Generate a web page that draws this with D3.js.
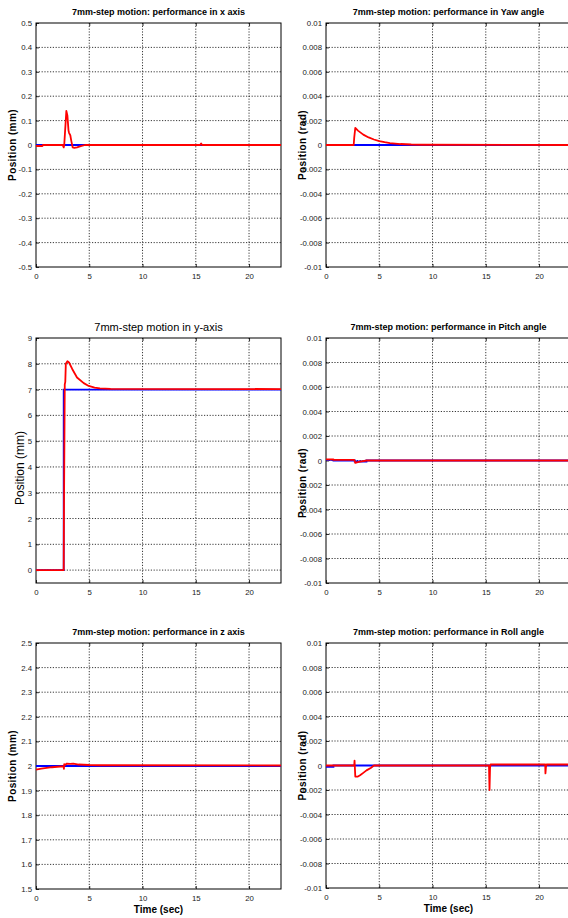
<!DOCTYPE html>
<html><head><meta charset="utf-8">
<script src="https://cdn.jsdelivr.net/npm/d3@7"></script>
<style>
html,body{margin:0;padding:0;background:#fff;}
svg{display:block;font-family:"Liberation Sans",Arial,Helvetica,sans-serif;}
</style></head>
<body>
<svg id="c" width="568" height="918"></svg>
<script>
// ---------- DATA ----------
const xTicks = [0, 5, 10, 15, 20];
const xTickLabels = ["0", "5", "10", "15", "20"];
const xDomain = [0, 23];

const mmTicksX = [-0.5, -0.4, -0.3, -0.2, -0.1, 0, 0.1, 0.2, 0.3, 0.4, 0.5];
const mmTickLabelsX = ["-0.5", "-0.4", "-0.3", "-0.2", "-0.1", "0", "0.1", "0.2", "0.3", "0.4", "0.5"];
const mmTicksY = [0, 1, 2, 3, 4, 5, 6, 7, 8, 9];
const mmTickLabelsY = ["0", "1", "2", "3", "4", "5", "6", "7", "8", "9"];
const mmTicksZ = [1.5, 1.6, 1.7, 1.8, 1.9, 2, 2.1, 2.2, 2.3, 2.4, 2.5];
const mmTickLabelsZ = ["1.5", "1.6", "1.7", "1.8", "1.9", "2", "2.1", "2.2", "2.3", "2.4", "2.5"];
const radTicks = [-0.01, -0.008, -0.006, -0.004, -0.002, 0, 0.002, 0.004, 0.006, 0.008, 0.01];
const radTickLabels = ["-0.01", "-0.008", "-0.006", "-0.004", "-0.002", "0", "0.002", "0.004", "0.006", "0.008", "0.01"];

const titles = [
  "7mm-step motion: performance in x axis",
  "7mm-step motion: performance in Yaw angle",
  "7mm-step motion in y-axis",
  "7mm-step motion: performance in Pitch angle",
  "7mm-step motion: performance in z axis",
  "7mm-step motion: performance in Roll angle"
];
const yLabels = ["Position (mm)", "Position (rad)", "Position (mm)", "Position (rad)", "Position (mm)", "Position (rad)"];
const xLabel = "Time (sec)";

// x axis (mm)
const xRefT = [0, 23];
const xRefV = [0, 0];
const xActT = [0, 0.6, 0.65, 2.5, 2.6, 2.65, 2.85, 2.95, 3.05, 3.1, 3.22, 3.3, 3.44, 3.6, 3.85, 4.2, 4.6, 15.4, 15.5, 15.6, 23];
const xActV = [-0.004, -0.004, 0, 0, -0.01, 0.0, 0.14, 0.12, 0.06, 0.05, 0.04, 0.02, -0.01, -0.012, -0.01, -0.005, 0, 0, 0.006, 0, 0];

// Yaw (rad)
const yawRefT = [0, 23];
const yawRefV = [0, 0];
const yawActT = [0, 2.6, 2.65, 2.75, 3.0, 3.5, 4.0, 4.5, 5.0, 5.5, 6.0, 7.0, 8.0, 9.0, 23];
const yawActV = [0, 0, 0.0006, 0.0014, 0.00118, 0.00085, 0.00062, 0.00045, 0.00032, 0.00023, 0.00016, 0.00008, 0.00004, 0.00002, 0];

// y axis (mm)
const yRefT = [0, 2.6, 2.6, 23];
const yRefV = [0, 0, 7, 7];
const yActT = [0, 2.6, 2.62, 2.7, 2.75, 2.8, 2.95, 3.1, 3.4, 3.85, 4.48, 4.95, 5.5, 6.0, 7.0, 23];
const yActV = [0, 0, 1.9, 7.2, 7.3, 8.0, 8.1, 8.05, 7.8, 7.47, 7.25, 7.14, 7.08, 7.05, 7.03, 7.02];

// Pitch (rad)
const pitchRefT = [0, 0.7, 0.7, 2.7, 2.7, 3.8, 3.8, 23];
const pitchRefV = [0.00005, 0.00005, 0, 0, -0.00008, -0.00008, 0, 0];
const pitchActT = [0, 0.7, 0.7, 2.65, 2.7, 2.75, 2.9, 3.2, 3.5, 3.8, 23];
const pitchActV = [0.0001, 0.0001, 0.00005, 0.00005, -0.00005, -0.0002, -0.00015, -0.0001, -0.00005, 0, 0];

// z axis (mm)
const zRefT = [0, 23];
const zRefV = [2, 2];
const zActT = [0, 0.5, 1.0, 1.5, 2.0, 2.6, 2.62, 2.65, 2.7, 2.9, 3.2, 3.5, 4.0, 4.5, 5.0, 6.0, 23];
const zActV = [1.985, 1.989, 1.992, 1.995, 1.997, 1.999, 1.988, 2.008, 2.003, 2.01, 2.009, 2.01, 2.006, 2.005, 2.004, 2.003, 2.002];

// Roll (rad)
const rollRefT = [0, 0.7, 0.7, 23];
const rollRefV = [-0.0001, -0.0001, 0, 0];
const rollActT = [0, 2.65, 2.68, 2.75, 2.8, 3.0, 3.2, 3.5, 3.8, 4.2, 4.5, 15.3, 15.35, 15.4, 15.45, 15.5, 20.58, 20.6, 20.65, 20.7, 20.75, 23];
const rollActV = [0, 0, 0.0004, -0.0009, -0.0009, -0.0009, -0.0008, -0.0006, -0.0004, -0.0002, 0, 0, -0.002, -0.0002, 0.00008, 0.00008, 0.00008, -0.00065, -0.0001, 0.00008, 0.00008, 0.00008];

// ---------- LAYOUT ----------
const panels = [
  {left: 36, top: 23, bottom: 267, yDom: [-0.5, 0.5], ticks: mmTicksX, labels: mmTickLabelsX, refT: xRefT, refV: xRefV, actT: xActT, actV: xActV, big: false, labY: null},
  {left: 326, top: 23, bottom: 267, yDom: [-0.01, 0.01], ticks: radTicks, labels: radTickLabels, refT: yawRefT, refV: yawRefV, actT: yawActT, actV: yawActV, big: false, labY: null},
  {left: 36, top: 338, bottom: 583, yDom: [-0.5, 9], ticks: mmTicksY, labels: mmTickLabelsY, refT: yRefT, refV: yRefV, actT: yActT, actV: yActV, big: true, labY: 468},
  {left: 326, top: 338, bottom: 583, yDom: [-0.01, 0.01], ticks: radTicks, labels: radTickLabels, refT: pitchRefT, refV: pitchRefV, actT: pitchActT, actV: pitchActV, big: false, labY: 483},
  {left: 36, top: 643, bottom: 889, yDom: [1.5, 2.5], ticks: mmTicksZ, labels: mmTickLabelsZ, refT: zRefT, refV: zRefV, actT: zActT, actV: zActV, big: false, labY: null, xlab: true},
  {left: 326, top: 643, bottom: 888, yDom: [-0.01, 0.01], ticks: radTicks, labels: radTickLabels, refT: rollRefT, refV: rollRefV, actT: rollActT, actV: rollActV, big: false, labY: null, xlab: true}
];
const plotW = 245;

const svg = d3.select("#c");

panels.forEach((p, i) => {
  const x = d3.scaleLinear().domain(xDomain).range([p.left, p.left + plotW]);
  const y = d3.scaleLinear().domain(p.yDom).range([p.bottom, p.top]);
  const g = svg.append("g");

  // grid
  g.selectAll(".gx").data(xTicks.filter(t => t > xDomain[0] && t < xDomain[1])).join("line")
    .attr("x1", d => x(d)).attr("x2", d => x(d)).attr("y1", p.top).attr("y2", p.bottom)
    .attr("stroke", "#222").attr("stroke-width", 0.9).attr("stroke-dasharray", "1.2,1.6");
  g.selectAll(".gy").data(p.ticks.filter(t => t > p.yDom[0] && t < p.yDom[1])).join("line")
    .attr("y1", d => y(d)).attr("y2", d => y(d)).attr("x1", p.left).attr("x2", p.left + plotW)
    .attr("stroke", "#222").attr("stroke-width", 0.9).attr("stroke-dasharray", "1.2,1.6");

  // axes via d3
  const yAxis = d3.axisLeft(y).tickValues(p.ticks).tickSize(-3).tickPadding(4)
    .tickFormat((d, k) => p.labels[k]);
  const ya = g.append("g").attr("transform", `translate(${p.left},0)`).call(yAxis);
  const xAxis = d3.axisBottom(x).tickValues(xTicks).tickSize(-3).tickPadding(6)
    .tickFormat((d, k) => xTickLabels[k]);
  const xa = g.append("g").attr("transform", `translate(0,${p.bottom})`).call(xAxis);
  [ya, xa].forEach(a => {
    a.select(".domain").remove();
    a.selectAll("line").attr("stroke", "#000").attr("stroke-width", 0.8);
    a.selectAll("text").attr("font-size", 7.8).attr("fill", "#222")
      .attr("font-family", "'Liberation Sans',Arial,sans-serif");
  });
  // mirrored ticks (top)
  g.append("g").attr("transform", `translate(0,${p.top})`)
    .call(d3.axisTop(x).tickValues(xTicks).tickSize(-3).tickFormat(""))
    .call(a => { a.select(".domain").remove(); a.selectAll("line").attr("stroke", "#000").attr("stroke-width", 0.8); });

  // box
  g.append("rect").attr("x", p.left).attr("y", p.top).attr("width", plotW).attr("height", p.bottom - p.top)
    .attr("fill", "none").attr("stroke", "#000").attr("stroke-width", 1);

  // lines
  const line = d3.line().x(d => x(d[0])).y(d => y(d[1]));
  const clipId = "clip" + i;
  svg.append("clipPath").attr("id", clipId).append("rect")
    .attr("x", p.left).attr("y", p.top).attr("width", plotW).attr("height", p.bottom - p.top);
  const lg = g.append("g").attr("clip-path", `url(#${clipId})`);
  lg.append("path").datum(d3.zip(p.refT, p.refV)).attr("d", line)
    .attr("fill", "none").attr("stroke", "#0000ff").attr("stroke-width", 1.8);
  lg.append("path").datum(d3.zip(p.actT, p.actV)).attr("d", line)
    .attr("fill", "none").attr("stroke", "#ff0000").attr("stroke-width", 1.8).attr("stroke-linejoin", "round");

  // title
  const cx = p.left + 122.5;
  g.append("text").attr("x", cx).attr("y", p.top - (p.big ? 7.5 : 8))
    .attr("text-anchor", "middle").attr("font-size", p.big ? 11 : 9)
    .attr("font-weight", p.big ? "normal" : "bold").attr("fill", "#000")
    .text(titles[i]);

  // y label
  const ly = p.labY !== null ? p.labY : (p.top + p.bottom) / 2;
  const lx = p.big ? 23.5 : p.left - 20.5;
  g.append("text").attr("transform", `translate(${lx},${ly}) rotate(-90)`)
    .attr("text-anchor", "middle").attr("font-size", p.big ? 12 : 10)
    .attr("font-weight", p.big ? "normal" : "bold")
    .attr("letter-spacing", p.big ? 0 : 0.4).attr("fill", "#000")
    .text(yLabels[i]);

  if (p.xlab) {
    g.append("text").attr("x", cx).attr("y", p.bottom + 24)
      .attr("text-anchor", "middle").attr("font-size", 10).attr("font-weight", "bold")
      .attr("fill", "#000").text(xLabel);
  }
});
</script>
</body></html>
